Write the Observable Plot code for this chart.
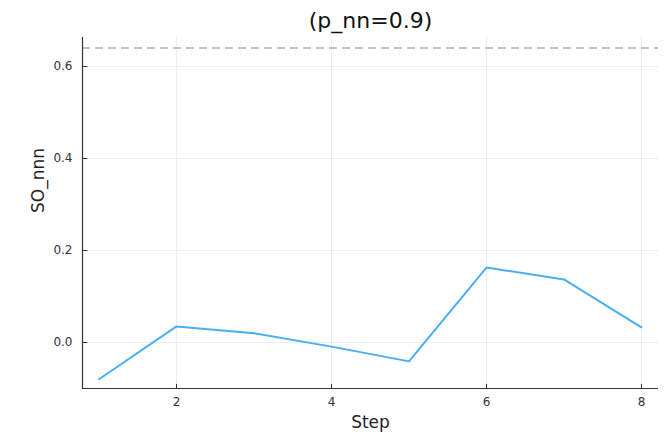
<!DOCTYPE html>
<html><head><meta charset="utf-8">
<script src="https://cdn.jsdelivr.net/npm/d3@7"></script>
<script src="https://cdn.jsdelivr.net/npm/@observablehq/plot@0.6"></script>
<style>body{margin:0;background:#fff;font-family:"DejaVu Sans",sans-serif;}</style>
</head><body><div id="chart"></div>
<script>
const title = "(p_nn=0.9)";
const steps = [1, 2, 3, 4, 5, 6, 7, 8];
const soNnn = [-0.080, 0.035, 0.020, -0.009, -0.041, 0.163, 0.137, 0.033];
const refLevel = [0.64];
const xTicks = [2, 4, 6, 8];
const yTicks = [0.0, 0.2, 0.4, 0.6];
const xDomain = [0.787, 8.22];
const yDomain = [-0.1, 0.663];

const data = steps.map((s, i) => ({step: s, v: soNnn[i]}));

const chart = Plot.plot({
  width: 672, height: 434,
  marginLeft: 82, marginRight: 14, marginTop: 37, marginBottom: 46,
  style: {fontFamily: "DejaVu Sans, sans-serif", fontSize: "12px", color: "#333", background: "#fff"},
  x: {domain: xDomain, ticks: xTicks},
  y: {domain: yDomain, ticks: yTicks},
  marks: [
    Plot.gridX(xTicks, {stroke: "#000", strokeOpacity: 0.07}),
    Plot.gridY(yTicks, {stroke: "#000", strokeOpacity: 0.07}),
    Plot.ruleY(refLevel, {stroke: "#b0b0b0", strokeWidth: 1.5, strokeDasharray: "8,5"}),
    Plot.axisX(xTicks, {tickSize: 0, tickPadding: 9, fontSize: 12, label: null, fill: "#333"}),
    Plot.axisY(yTicks, {tickSize: 0, tickPadding: 10, fontSize: 12, label: null, tickFormat: d3.format(".1f"), fill: "#333"}),
    Plot.ruleX(xTicks, {x: d => d, y1: yDomain[0], y2: yDomain[0] + 0.009, stroke: "#333", strokeWidth: 1}),
    Plot.ruleY(yTicks, {y: d => d, x1: xDomain[0], x2: xDomain[0] + 0.07, stroke: "#333", strokeWidth: 1}),
    Plot.ruleX([xDomain[0]], {stroke: "#333", strokeWidth: 1.2}),
    Plot.ruleY([yDomain[0]], {stroke: "#333", strokeWidth: 1.2}),
    Plot.line(data, {x: "step", y: "v", stroke: "#4aaef7", strokeWidth: 2}),
    Plot.text([title], {frameAnchor: "top", lineAnchor: "middle", dy: -17, fontSize: 22, fill: "#111"}),
    Plot.text(["Step"], {frameAnchor: "bottom", lineAnchor: "middle", dy: 34, fontSize: 17, fill: "#222"}),
    Plot.text(["SO_nnn"], {frameAnchor: "left", dx: -44, rotate: -90, fontSize: 17, fill: "#222"})
  ]
});
document.getElementById("chart").appendChild(chart);
</script></body></html>
